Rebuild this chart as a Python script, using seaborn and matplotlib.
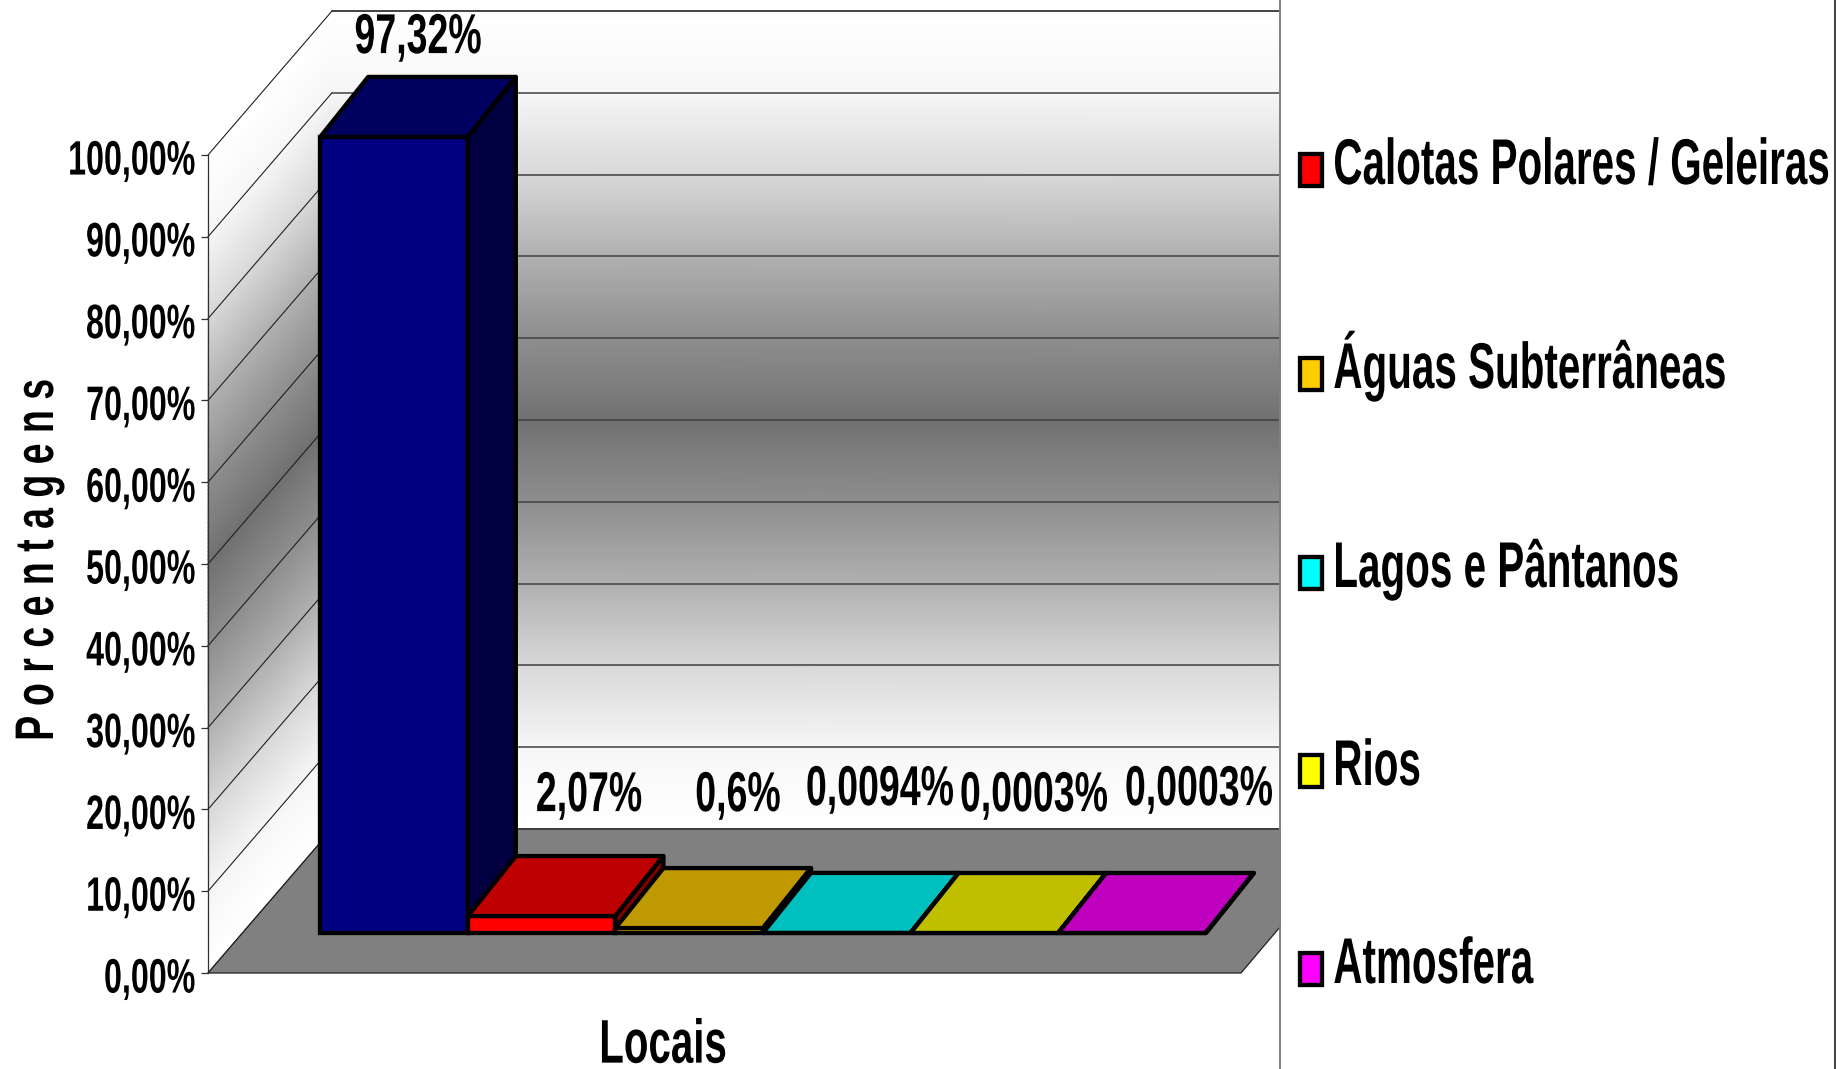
import matplotlib
matplotlib.use('Agg')
import matplotlib.pyplot as plt
import matplotlib.colors as mcolors
import matplotlib.patheffects as path_effects
from matplotlib.patches import Patch, Polygon
from matplotlib.transforms import Affine2D
import numpy as np
import seaborn as sns

# Data
CATEGORIES = ['Oceanos', 'Calotas Polares / Geleiras', 'Águas Subterrâneas',
              'Lagos e Pântanos', 'Rios', 'Atmosfera']
VALUES = [97.32, 2.07, 0.6, 0.0094, 0.0003, 0.0003]
VALUE_LABELS = ['97,32%', '2,07%', '0,6%', '0,0094%', '0,0003%', '0,0003%']
COLORS = ['#000080', '#FF0000', '#FFCC00', '#00FFFF', '#FFFF00', '#FF00FF']
TICKS = [0, 10, 20, 30, 40, 50, 60, 70, 80, 90, 100]
TICK_LABELS = ['0,00%', '10,00%', '20,00%', '30,00%', '40,00%', '50,00%',
               '60,00%', '70,00%', '80,00%', '90,00%', '100,00%']

# Layout in pixels of the 1836x1069 figure
W, H = 1836, 1069
BAR_X0, BAR_STEP = 394.0, 147.6    # centre of the first bar, bar pitch
BAR_Y0, PX_PER_PCT = 933.0, 8.18   # bar base line, pixels per 1%
FRONT_X, FRONT_Y = 208.0, 973.0    # origin of the front of the side wall
BACK_X, BACK_Y = 332.0, 829.0      # origin of the back wall
RIGHT_X, FLOOR_RIGHT_X = 1280.0, 1241.0
DEPTH_X, DEPTH_Y = 48.0, 60.0      # bar depth offset
BAR_LW = 3.1
LABEL_X = [418, 589, 738, 880, 1034, 1199]
LABEL_Y = [38, 796, 796, 790, 796, 790]

# Wall shading, from the middle of the wall to its edge
SHADE_AT = [0.0, 0.2, 0.4, 0.6, 0.8, 1.0]
SHADE_GREY = [113, 142, 176, 216, 246, 255]

FONT = ['Liberation Sans', 'DejaVu Sans']


class TallText(path_effects.AbstractPathEffect):
    """Stretches text vertically (the reference font is very condensed).

    pivot is the height kept in place, in path units; None means the middle of the text.
    """

    def __init__(self, stretch, pivot=None):
        super().__init__()
        self.stretch = stretch
        self.pivot = pivot

    def draw_path(self, renderer, gc, tpath, affine, rgbFace=None):
        box = tpath.get_extents()
        mid = (box.y0 + box.y1) / 2 if self.pivot is None else self.pivot
        local = Affine2D().translate(0, -mid).scale(1, self.stretch).translate(0, mid)
        renderer.draw_path(gc, tpath, local + affine, rgbFace)


def to_x(px):
    return (px - BAR_X0) / BAR_STEP


def to_y(px):
    return (BAR_Y0 - px) / PX_PER_PCT


def shade(color, factor):
    return tuple(c * factor for c in mcolors.to_rgb(color))


sns.set_theme(style='white')
plt.rcParams['font.family'] = FONT
plt.rcParams['font.weight'] = 'bold'
plt.rcParams['text.color'] = 'black'
plt.rcParams['ytick.labelcolor'] = 'black'

fig = plt.figure(figsize=(W / 100, H / 100), dpi=100, facecolor='white')
ax = fig.add_axes([0, 0, 1, 1])

# Walls
frac = np.linspace(0, 1, 201)
grey = np.interp(np.abs(frac - 0.5) * 2, SHADE_AT, SHADE_GREY)
height_px = frac * 100 * PX_PER_PCT
grey_rows = np.column_stack([grey, grey]) / 255
for x_a, x_b, y_a, y_b in [(FRONT_X, BACK_X, FRONT_Y, BACK_Y), (BACK_X, RIGHT_X, BACK_Y, BACK_Y)]:
    xs = np.column_stack([np.full(frac.size, to_x(x_a)), np.full(frac.size, to_x(x_b))])
    ys = np.column_stack([to_y(y_a - height_px), to_y(y_b - height_px)])
    ax.pcolormesh(xs, ys, grey_rows, shading='gouraud', cmap='gray', vmin=0, vmax=1, zorder=0)

# Grid lines on the walls
for t in TICKS:
    step = t * PX_PER_PCT
    ax.plot([to_x(FRONT_X), to_x(BACK_X)], [to_y(FRONT_Y - step), to_y(BACK_Y - step)],
            color='#202020', lw=0.8, zorder=1)
    ax.plot([to_x(BACK_X), to_x(RIGHT_X)], [to_y(BACK_Y - step), to_y(BACK_Y - step)],
            color='#101010' if t == 100 else '#404040', lw=1.1, zorder=1)

# Floor
floor = [(FRONT_X, FRONT_Y), (FLOOR_RIGHT_X, FRONT_Y), (RIGHT_X, 927.0), (RIGHT_X, BACK_Y), (BACK_X, BACK_Y)]
ax.add_patch(Polygon([(to_x(x), to_y(y)) for x, y in floor], closed=True,
                     facecolor='#808080', edgecolor='#202020', lw=0.9, zorder=2))

# Front faces of the bars
sns.barplot(x=CATEGORIES, y=VALUES, hue=CATEGORIES, palette=COLORS, saturation=1, width=1,
            dodge=False, edgecolor='black', linewidth=BAR_LW, legend=False, ax=ax)

# Top and side faces worked out from each bar
dx, dy = DEPTH_X / BAR_STEP, DEPTH_Y / PX_PER_PCT
for i, container in enumerate(ax.containers):
    bar = container[i] if len(container) > 1 else container[0]
    left, right, top = bar.get_x(), bar.get_x() + bar.get_width(), bar.get_height()
    bar.set_zorder(3 + i)
    bar.set_joinstyle('miter')
    ax.add_patch(Polygon([(left, top), (right, top), (right + dx, top + dy), (left + dx, top + dy)],
                         closed=True, facecolor=shade(COLORS[i], 0.75), edgecolor='black',
                         lw=BAR_LW, joinstyle='round', zorder=3 + i))
    ax.add_patch(Polygon([(right, 0), (right, top), (right + dx, top + dy), (right + dx, dy)],
                         closed=True, facecolor=shade(COLORS[i], 0.5), edgecolor='black',
                         lw=BAR_LW, joinstyle='round', zorder=3 + i))

# Value labels
for label, x, y in zip(VALUE_LABELS, LABEL_X, LABEL_Y):
    ax.text(to_x(x), to_y(y), label, ha='center', va='center', fontsize=27, fontweight='bold',
            color='black', zorder=20, path_effects=[TallText(1.5)])

# Frame lines on the right
ax.axvline(to_x(RIGHT_X), color='#808080', lw=1.4, zorder=15)
ax.axvline(to_x(1834.5), color='#404040', lw=1.4, zorder=15)

ax.set_xlim(to_x(0), to_x(W))
ax.set_ylim(to_y(H), to_y(0))
ax.set_axis_off()

# Real value axis along the front edge of the side wall
ax_y = fig.add_axes([FRONT_X / W, (H - FRONT_Y) / H, (FLOOR_RIGHT_X - FRONT_X) / W,
                     100 * PX_PER_PCT / H], facecolor='none')
ax_y.set_ylim(0, 100)
ax_y.set_xlim(0, 1)
ax_y.set_xticks([])
ax_y.set_yticks(TICKS)
ax_y.set_yticklabels(TICK_LABELS, fontsize=23.2, fontweight='bold')
for tick_label in ax_y.get_yticklabels():
    tick_label.set_path_effects([TallText(1.5, pivot=50)])
ax_y.tick_params(axis='y', length=5, width=0.9, color='#303030', pad=4, left=True)
sns.despine(ax=ax_y, top=True, right=True, bottom=True)
ax_y.spines['left'].set_color('#303030')
ax_y.spines['left'].set_linewidth(0.9)
fig.text(39 / W, 1 - 560 / H, 'P o r c e n t a g e n s', rotation=90, ha='center', va='center',
         fontsize=27, fontweight='bold', color='black', path_effects=[TallText(1.45)])
fig.text(663 / W, 1 - 1044 / H, 'Locais', ha='center', va='center', fontsize=29, fontweight='bold',
         color='black', path_effects=[TallText(1.53)])

# Legend without the first category, as in the reference
handles = [Patch(facecolor=c, edgecolor='black', linewidth=BAR_LW) for c in COLORS[1:]]
LEGEND_PT = 29.1
fs_px = LEGEND_PT * 100 / 72
legend = fig.legend(handles, CATEGORIES[1:], loc='upper left', bbox_to_anchor=(1300 / W, 1 - 154 / H),
                    frameon=False, prop={'family': FONT, 'weight': 'bold', 'size': LEGEND_PT},
                    handlelength=22 / fs_px, handleheight=0.83, handletextpad=0.28,
                    labelspacing=(200 - 40) / fs_px, borderpad=0, borderaxespad=0, labelcolor='black')
for text in legend.get_texts():
    text.set_path_effects([TallText(1.6, pivot=0)])

plt.savefig('out.png', dpi=100)
plt.close(fig)
